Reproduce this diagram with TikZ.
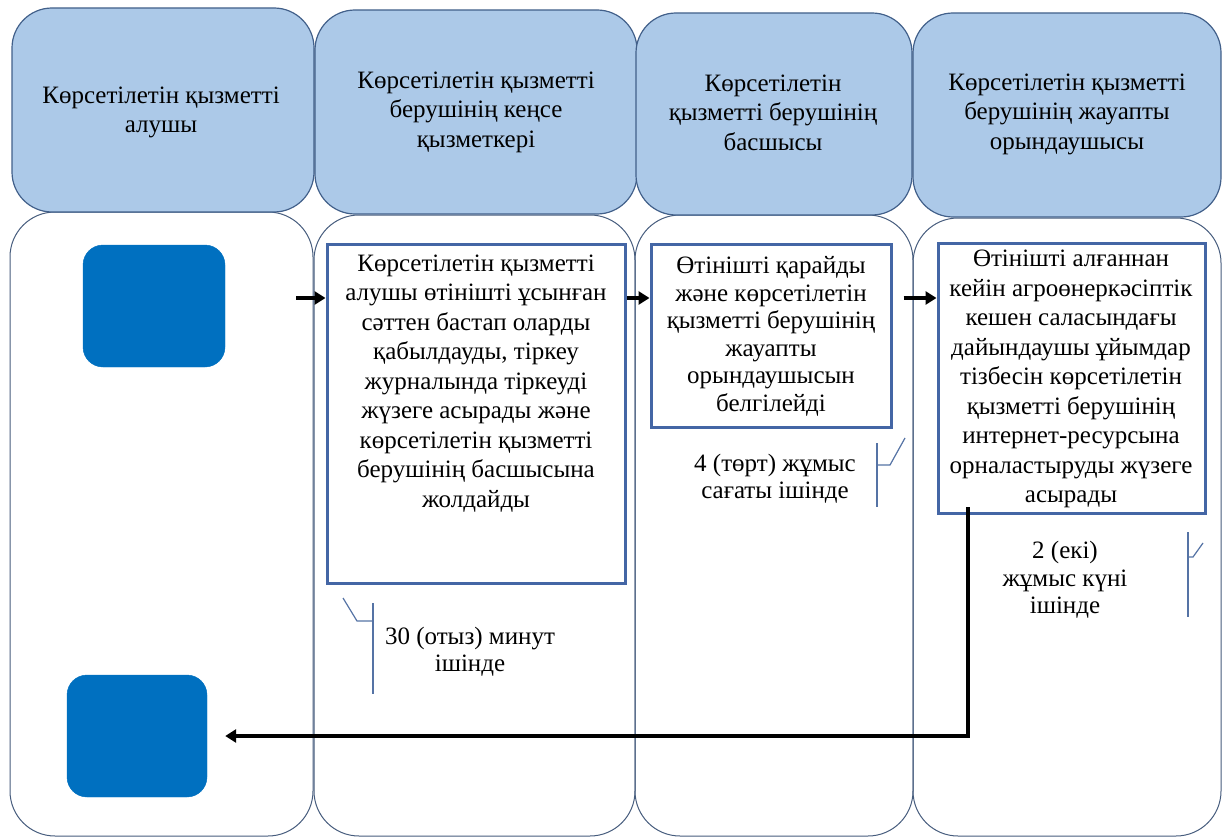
\documentclass[tikz,border=0pt]{standalone}
\usepackage{fontspec}
\setmainfont{Liberation Serif}
\usetikzlibrary{arrows.meta}
\definecolor{hdrfill}{RGB}{172,201,232}
\definecolor{hdrline}{RGB}{66,96,138}
\definecolor{bodyline}{RGB}{70,92,125}
\definecolor{procline}{RGB}{68,102,165}
\definecolor{sqfill}{RGB}{0,112,192}
\definecolor{callline}{RGB}{85,115,165}
\tikzset{
  hdr/.style={draw=hdrline, line width=1.2pt, fill=hdrfill, rounded corners=40pt, inner sep=0pt},
  lane/.style={draw=bodyline, line width=1pt, rounded corners=45pt, inner sep=0pt},
  sq/.style={fill=sqfill, draw=sqfill, rounded corners=20pt, inner sep=0pt},
  proc/.style={draw=procline, line width=3pt, fill=white, inner sep=0pt},
  txt/.style={font=\fontsize{25}{29.5}\selectfont, align=center, inner sep=0pt},
  txtb/.style={font=\fontsize{25}{27.5}\selectfont, align=center, inner sep=0pt},
  flow/.style={line width=3.5pt, -{Triangle[length=11pt,width=13pt]}},
  callout/.style={draw=callline, line width=1.2pt},
}
\begin{document}
\begin{tikzpicture}[x=1pt,y=-1pt]
\useasboundingbox (0,0) rectangle (1223,840);
% lanes
\node[lane, minimum width=303pt, minimum height=624pt] (b1) at (161.5,524) {};
\node[lane, minimum width=321pt, minimum height=621pt] (b2) at (474.5,525.5) {};
\node[lane, minimum width=278pt, minimum height=621pt] (b3) at (774,525.5) {};
\node[lane, minimum width=308pt, minimum height=618pt] (b4) at (1067,527) {};
% headers
\node[hdr, minimum width=302pt, minimum height=204pt] (h1) at (163,110) {};
\node[hdr, minimum width=322pt, minimum height=204pt] (h2) at (476,112) {};
\node[hdr, minimum width=276pt, minimum height=202pt] (h3) at (774,114) {};
\node[hdr, minimum width=308pt, minimum height=204pt] (h4) at (1067,115) {};
\node[txt] (h1t) at (161,112.5) {Көрсетілетін қызметті\\алушы};
\node[txt] (h2t) at (476,112) {Көрсетілетін қызметті\\берушінің кеңсе\\қызметкері};
\node[txt] (h3t) at (773,112.5) {Көрсетілетін\\қызметті берушінің\\басшысы};
\node[txt] (h4t) at (1067,114) {Көрсетілетін қызметті\\берушінің жауапты\\орындаушысы};
% squares
\node[sq, minimum width=142pt, minimum height=122pt] (sq1) at (154,306) {};
\node[sq, minimum width=140pt, minimum height=122pt] (sq2) at (137,736) {};
% process boxes
\node[proc, minimum width=298pt, minimum height=339pt] (pA) at (476,413.5) {};
\node[proc, minimum width=240pt, minimum height=183pt] (pB) at (771,335.5) {};
\node[proc, minimum width=267pt, minimum height=270pt] (pC) at (1071.5,378) {};
\node[txt] (pAt) at (476,383.5) {Көрсетілетін қызметті\\алушы өтінішті ұсынған\\сәттен бастап оларды\\қабылдауды, тіркеу\\журналында тіркеуді\\жүзеге асырады және\\көрсетілетін қызметті\\берушінің басшысына\\жолдайды};
\node[txtb] (pBt) at (771,336.5) {Өтінішті қарайды\\және көрсетілетін\\қызметті берушінің\\жауапты\\орындаушысын\\белгілейді};
\node[txt] (pCt) at (1071,379) {Өтінішті алғаннан\\кейін агроөнеркәсіптік\\кешен саласындағы\\дайындаушы ұйымдар\\тізбесін көрсетілетін\\қызметті берушінің\\интернет-ресурсына\\орналастыруды жүзеге\\асырады};
% arrows
\coordinate (a1s) at (296,298);
\draw[flow] (a1s) -- (a1s -| pA.west);
\draw[flow] (a1s -| pA.east) -- (a1s -| pB.west);
\draw[flow] (a1s -| pB.east) ++(11,0) coordinate (a3s) -- (a1s -| pC.west);
\coordinate (rs) at (968,507);
\draw[flow, shorten >=18pt] (rs) |- (sq2.east);
% callouts
\node[txtb] (c1t) at (470,651.5) {30 (отыз) минут\\ішінде};
\node[txtb] (c2t) at (775,478.5) {4 (төрт) жұмыс\\сағаты ішінде};
\node[txtb] (c3t) at (1065,580) {2 (екі)\\жұмыс күні\\ішінде};
\coordinate (c1a) at (343,598); \coordinate (c1b) at (357,621);
\coordinate (c1top) at (373,603); \coordinate (c1bot) at (373,694);
\draw[callout] (c1a) -- (c1b) -- (c1b -| c1top);
\draw[callout] (c1top) -- (c1bot);
\coordinate (c2top) at (877,443); \coordinate (c2bot) at (877,507);
\coordinate (c2b) at (890,465); \coordinate (c2a) at (905,438);
\draw[callout] (c2top) -- (c2bot);
\draw[callout] (c2b -| c2top) -- (c2b) -- (c2a);
\coordinate (c3top) at (1188,532); \coordinate (c3bot) at (1188,617);
\coordinate (c3b) at (1193,557); \coordinate (c3a) at (1203,543);
\draw[callout] (c3top) -- (c3bot);
\draw[callout] (c3b -| c3top) -- (c3b) -- (c3a);
\end{tikzpicture}
\end{document}
